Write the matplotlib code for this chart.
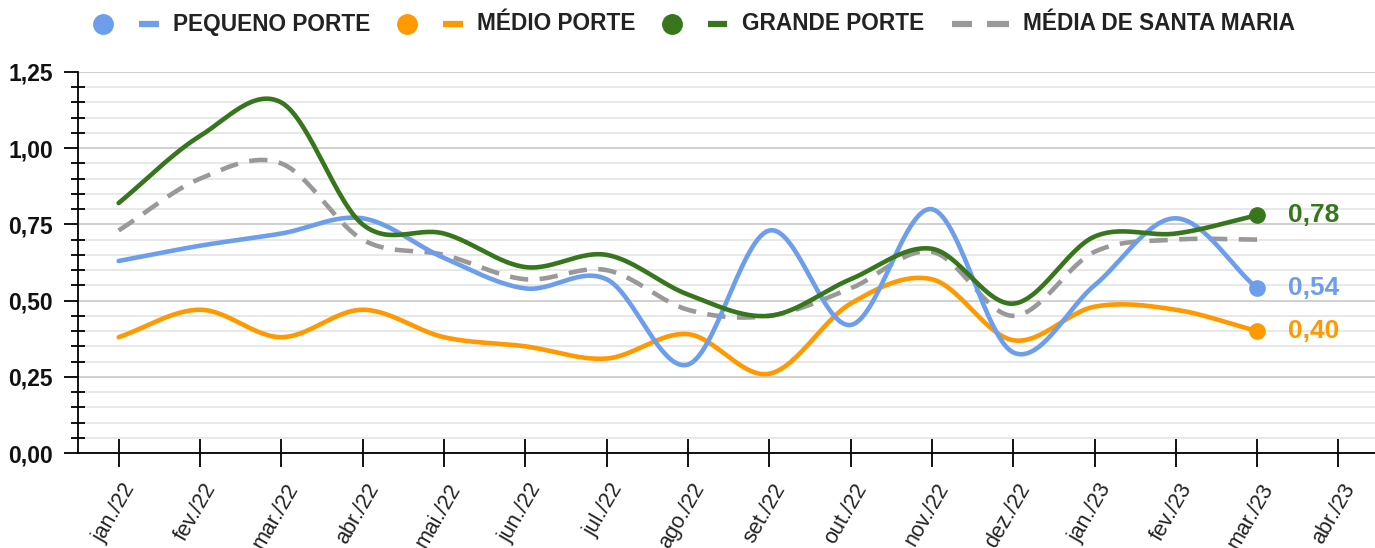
import numpy as np
import matplotlib.pyplot as plt
from matplotlib.lines import Line2D
from matplotlib.ticker import MultipleLocator
from matplotlib.transforms import ScaledTranslation

months = ['jan./22', 'fev./22', 'mar./22', 'abr./22', 'mai./22', 'jun./22',
          'jul./22', 'ago./22', 'set./22', 'out./22', 'nov./22', 'dez./22',
          'jan./23', 'fev./23', 'mar./23', 'abr./23']

pequeno = [0.63, 0.68, 0.72, 0.77, 0.64, 0.54, 0.57, 0.29, 0.73, 0.42, 0.80, 0.33, 0.55, 0.77, 0.54]
medio = [0.38, 0.47, 0.38, 0.47, 0.38, 0.35, 0.31, 0.39, 0.26, 0.49, 0.57, 0.37, 0.48, 0.47, 0.40]
grande = [0.82, 1.04, 1.15, 0.75, 0.72, 0.61, 0.65, 0.52, 0.45, 0.57, 0.67, 0.49, 0.71, 0.72, 0.78]
media_sm = [0.73, 0.90, 0.95, 0.70, 0.65, 0.57, 0.60, 0.47, 0.45, 0.54, 0.66, 0.45, 0.66, 0.70, 0.70]

names = ['PEQUENO PORTE', 'MÉDIO PORTE', 'GRANDE PORTE', 'MÉDIA DE SANTA MARIA']
colors = ['#6d9eeb', '#ff9900', '#38761d', '#999999']

plt.rcParams['font.family'] = ['Liberation Sans', 'DejaVu Sans']


def smooth(y, n=30):
    # hermite curve through the points (catmull-rom tangents)
    y = np.asarray(y, float)
    m = np.zeros_like(y)
    m[1:-1] = (y[2:] - y[:-2]) / 2
    m[0] = y[1] - y[0]
    m[-1] = y[-1] - y[-2]
    xs, ys = [], []
    for i in range(len(y) - 1):
        t = np.linspace(0, 1, n, endpoint=False)
        h00 = 2 * t**3 - 3 * t**2 + 1
        h10 = t**3 - 2 * t**2 + t
        h01 = -2 * t**3 + 3 * t**2
        h11 = t**3 - t**2
        xs.append(i + t)
        ys.append(h00 * y[i] + h10 * m[i] + h01 * y[i + 1] + h11 * m[i + 1])
    xs.append([len(y) - 1])
    ys.append([y[-1]])
    return np.concatenate(xs), np.concatenate(ys)


fig = plt.figure(figsize=(13.75, 5.48), dpi=100)
ax = fig.add_axes([78 / 1375, 1 - 453 / 548, 1 - 78 / 1375 + 0.003, (453 - 72) / 548])

ax.set_xlim(-0.5, 15.5)
ax.set_ylim(0, 1.25)

for sp in ['top', 'right']:
    ax.spines[sp].set_visible(False)
ax.spines['left'].set_linewidth(1.3)
ax.spines['bottom'].set_linewidth(1.3)

ax.yaxis.set_major_locator(MultipleLocator(0.25))
ax.yaxis.set_minor_locator(MultipleLocator(0.05))
ax.grid(which='major', axis='y', color='#cccccc', lw=1.3, zorder=0)
ax.grid(which='minor', axis='y', color='#e6e6e6', lw=1.3, zorder=0)
ax.set_axisbelow(True)

ax.set_yticks([0, 0.25, 0.5, 0.75, 1.0, 1.25])
ax.set_yticklabels(['0,00', '0,25', '0,50', '0,75', '1,00', '1,25'],
                   fontsize=16.5, fontweight='bold', color='#111111')
ax.tick_params(axis='y', which='major', direction='out', length=10, width=1.3, pad=8)
ax.tick_params(axis='y', which='minor', direction='inout', length=10, width=1.3)

ax.set_xticks(range(len(months)))
ax.set_xticklabels(months, rotation=60, ha='right', va='center',
                   rotation_mode='anchor', fontsize=15.5, color='#222222')
ax.tick_params(axis='x', direction='inout', length=20, width=1.3, pad=13)
for lab in ax.get_xticklabels():
    lab.set_transform(lab.get_transform() + ScaledTranslation(0.12, 0, fig.dpi_scale_trans))

series = [pequeno, medio, grande, media_sm]
zs = [4, 3, 5, 2]
for vals, c, z, nm in zip(series, colors, zs, names):
    xs, ys = smooth(vals)
    if nm.startswith('MÉDIA DE'):
        ax.plot(xs, ys, color=c, lw=3.3, dashes=(4, 2.5), zorder=z, solid_capstyle='butt')
    else:
        ax.plot(xs, ys, color=c, lw=3.3, zorder=z, solid_capstyle='round')
        last = len(vals) - 1
        ax.plot(last, vals[-1], 'o', color=c, ms=11, zorder=z + 1)
        ax.annotate(f'{vals[-1]:.2f}'.replace('.', ','), (last, vals[-1]),
                    xytext=(22, 0), textcoords='offset points', va='center',
                    ha='left', fontsize=19, fontweight='bold', color=c)

# legend drawn along the top
leg_circ = [103, 407, 672, None]
leg_seg = [(139, 159), (443, 463), (708, 727), (952, 1009)]
leg_txt = [173, 477, 742, 1023]
ly = 1 - 24 / 548
for i, nm in enumerate(names):
    c = colors[i]
    if leg_circ[i] is not None:
        fig.add_artist(Line2D([leg_circ[i] / 1375], [ly], marker='o', ms=14,
                              color=c, lw=0, transform=fig.transFigure))
        s0, s1 = leg_seg[i]
        fig.add_artist(Line2D([s0 / 1375, s1 / 1375], [ly, ly], color=c, lw=4.5,
                              solid_capstyle='butt', transform=fig.transFigure))
    else:
        for s0, s1 in [(952, 972), (987, 1009)]:
            fig.add_artist(Line2D([s0 / 1375, s1 / 1375], [ly, ly], color=c, lw=4.5,
                                  solid_capstyle='butt', transform=fig.transFigure))
    fig.text(leg_txt[i] / 1375, ly, nm, fontsize=16.3, fontweight='bold',
             color='#222222', va='center', ha='left')

fig.savefig('out.png', dpi=100, facecolor='white')
